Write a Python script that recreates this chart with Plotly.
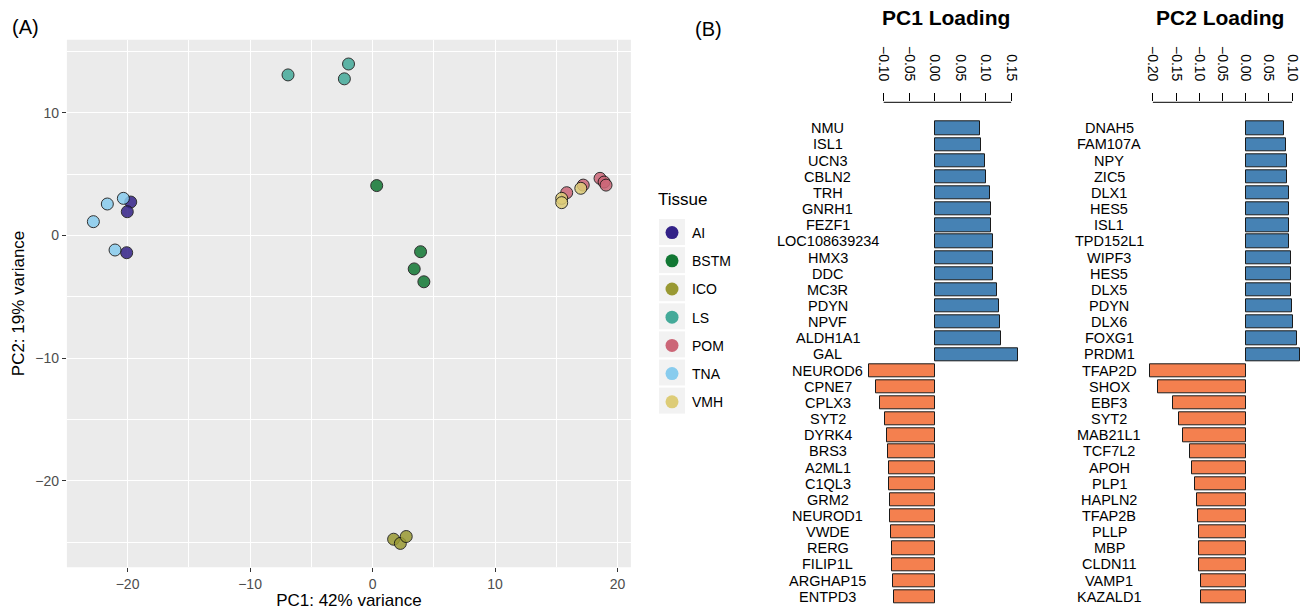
import plotly.graph_objects as go

W, H = 1311, 610
FONT = "Liberation Sans, Arial, Helvetica, sans-serif"

# ---------------- data ----------------
tissues = ["AI", "BSTM", "ICO", "LS", "POM", "TNA", "VMH"]
tissue_colors = ["#332288", "#117733", "#999933", "#44AA99", "#CC6677", "#88CCEE", "#DDCC77"]

sample_tissue = ["AI", "AI", "AI",
                 "BSTM", "BSTM", "BSTM", "BSTM",
                 "ICO", "ICO", "ICO",
                 "LS", "LS", "LS",
                 "POM", "POM", "POM", "POM", "POM",
                 "TNA", "TNA", "TNA", "TNA",
                 "VMH", "VMH", "VMH"]
sample_pc1 = [-19.74, -20.02, -20.07,
              0.34, 3.92, 3.40, 4.19,
              1.72, 2.27, 2.75,
              -6.9, -1.96, -2.3,
              15.85, 17.2, 18.57, 18.9, 19.06,
              -22.79, -21.65, -20.34, -21.02,
              15.44, 15.44, 17.0]
sample_pc2 = [2.72, 1.93, -1.41,
              4.06, -1.33, -2.73, -3.78,
              -24.76, -25.1, -24.54,
              13.08, 13.97, 12.76,
              3.48, 4.1, 4.65, 4.35, 4.1,
              1.12, 2.56, 3.02, -1.19,
              3.02, 2.67, 3.84]

pc1_genes = ["NMU", "ISL1", "UCN3", "CBLN2", "TRH", "GNRH1", "FEZF1", "LOC108639234",
             "HMX3", "DDC", "MC3R", "PDYN", "NPVF", "ALDH1A1", "GAL",
             "NEUROD6", "CPNE7", "CPLX3", "SYT2", "DYRK4", "BRS3", "A2ML1", "C1QL3",
             "GRM2", "NEUROD1", "VWDE", "RERG", "FILIP1L", "ARGHAP15", "ENTPD3"]
pc1_loadings = [0.0895, 0.0915, 0.0986, 0.1012, 0.109, 0.1097, 0.1104, 0.1137,
                0.1143, 0.115, 0.122, 0.1254, 0.128, 0.1293, 0.164,
                -0.1294, -0.115, -0.1078, -0.098, -0.0941, -0.0915, -0.0902, -0.0896,
                -0.0876, -0.087, -0.0857, -0.0843, -0.083, -0.0824, -0.0804]

pc2_genes = ["DNAH5", "FAM107A", "NPY", "ZIC5", "DLX1", "HES5", "ISL1", "TPD152L1",
             "WIPF3", "HES5", "DLX5", "PDYN", "DLX6", "FOXG1", "PRDM1",
             "TFAP2D", "SHOX", "EBF3", "SYT2", "MAB21L1", "TCF7L2", "APOH", "PLP1",
             "HAPLN2", "TFAP2B", "PLLP", "MBP", "CLDN11", "VAMP1", "KAZALD1"]
pc2_loadings = [0.0819, 0.0862, 0.089, 0.0895, 0.0927, 0.0933, 0.0935, 0.094,
                0.097, 0.0976, 0.0983, 0.1005, 0.1012, 0.1113, 0.1163,
                -0.2062, -0.1897, -0.156, -0.1444, -0.1344, -0.12, -0.115, -0.1086,
                -0.1056, -0.1035, -0.1013, -0.1006, -0.1, -0.0963, -0.0956]

pc1_ticks = [-0.10, -0.05, 0.00, 0.05, 0.10, 0.15]
pc2_ticks = [-0.20, -0.15, -0.10, -0.05, 0.00, 0.05, 0.10]

POS_COLOR = "#4682B4"
NEG_COLOR = "#F4804F"

# ---------------- figure ----------------
fig = go.Figure()

color_of = dict(zip(tissues, tissue_colors))
for t in tissues:
    xs = [x for x, s in zip(sample_pc1, sample_tissue) if s == t]
    ys = [y for y, s in zip(sample_pc2, sample_tissue) if s == t]
    fig.add_trace(go.Scatter(
        x=xs, y=ys, mode="markers", name=t, showlegend=False,
        marker=dict(size=12, color=color_of[t], opacity=0.85,
                    line=dict(color="#111111", width=1)),
        xaxis="x", yaxis="y"))

for i, t in enumerate(tissues):
    fig.add_trace(go.Scatter(
        x=[None], y=[None], mode="markers", name=t, legendgroup=t,
        marker=dict(size=13, color=color_of[t], line=dict(width=0)),
        xaxis="x", yaxis="y"))

fig.add_trace(go.Bar(
    x=pc1_loadings, y=list(range(len(pc1_genes))), orientation="h",
    width=0.82, showlegend=False,
    marker=dict(color=[POS_COLOR if v > 0 else NEG_COLOR for v in pc1_loadings],
                line=dict(color="#1a1a1a", width=1)),
    xaxis="x2", yaxis="y2"))

fig.add_trace(go.Bar(
    x=pc2_loadings, y=list(range(len(pc2_genes))), orientation="h",
    width=0.82, showlegend=False,
    marker=dict(color=[POS_COLOR if v > 0 else NEG_COLOR for v in pc2_loadings],
                line=dict(color="#1a1a1a", width=1)),
    xaxis="x3", yaxis="y2"))

GENE_FONT = dict(size=14.5, color="black", family=FONT)
annotations = []
for i, g in enumerate(pc1_genes):
    annotations.append(dict(x=827.7 / W, xref="paper", y=i, yref="y2", text=g,
                            showarrow=False, xanchor="center", yanchor="middle",
                            font=GENE_FONT))
for i, g in enumerate(pc2_genes):
    annotations.append(dict(x=1109 / W, xref="paper", y=i, yref="y2", text=g,
                            showarrow=False, xanchor="center", yanchor="middle",
                            font=GENE_FONT))

annotations += [
    dict(x=10 / W, y=1 - 27 / H, xref="paper", yref="paper", text="(A)", showarrow=False,
         xanchor="left", yanchor="middle", font=dict(size=20, color="black", family=FONT)),
    dict(x=693 / W, y=1 - 29 / H, xref="paper", yref="paper", text="(B)", showarrow=False,
         xanchor="left", yanchor="middle", font=dict(size=20, color="black", family=FONT)),
    dict(x=946 / W, y=1 - 18 / H, xref="paper", yref="paper", text="<b>PC1 Loading</b>",
         showarrow=False, xanchor="center", yanchor="middle",
         font=dict(size=21, color="black", family=FONT)),
    dict(x=1220 / W, y=1 - 18 / H, xref="paper", yref="paper", text="<b>PC2 Loading</b>",
         showarrow=False, xanchor="center", yanchor="middle",
         font=dict(size=21, color="black", family=FONT)),
    dict(x=656 / W, y=1 - 200 / H, xref="paper", yref="paper", text="Tissue",
         showarrow=False, xanchor="left", yanchor="middle",
         font=dict(size=17, color="black", family=FONT)),
]

LEG_Y0, LEG_DY = 232, 28.1
shapes = [
    # scatter panel background
    dict(type="rect", xref="x domain", yref="y domain", x0=0, x1=1, y0=0, y1=1,
         fillcolor="#EBEBEB", line=dict(width=0), layer="below"),
    # loading axis lines spanning the tick range
    dict(type="line", xref="x2", yref="y2 domain", x0=pc1_ticks[0], x1=pc1_ticks[-1],
         y0=1, y1=1, line=dict(color="black", width=1)),
    dict(type="line", xref="x3", yref="y2 domain", x0=pc2_ticks[0], x1=pc2_ticks[-1],
         y0=1, y1=1, line=dict(color="black", width=1)),
]
# legend key backgrounds
for i, t in enumerate(tissues):
    cy = LEG_Y0 + LEG_DY * i
    shapes.append(dict(type="rect", xref="paper", yref="paper",
                       x0=659 / W, x1=685 / W, y0=1 - (cy + 13) / H, y1=1 - (cy - 13) / H,
                       fillcolor="#F2F2F2", line=dict(width=0), layer="below"))

tick_font = dict(size=14, color="black", family=FONT)

fig.update_layout(
    width=W, height=H,
    margin=dict(l=0, r=0, t=0, b=0),
    paper_bgcolor="white",
    plot_bgcolor="white",
    font=dict(family=FONT, color="black"),
    showlegend=True,
    legend=dict(x=652 / W, y=1 - 217 / H, xanchor="left", yanchor="top",
                font=dict(size=14, color="black", family=FONT),
                traceorder="grouped", tracegroupgap=7, itemsizing="trace",
                bgcolor="rgba(0,0,0,0)"),
    annotations=annotations,
    shapes=shapes,
    bargap=0,
    xaxis=dict(domain=[66.9 / W, 630.9 / W], range=[-24.95, 21.09], anchor="y",
               tickvals=[-20, -10, 0, 10, 20], showgrid=True, gridcolor="white", gridwidth=1.3,
               zeroline=False, showline=False, ticks="outside", ticklen=4, tickcolor="#333333",
               tickfont=dict(size=14, color="#4D4D4D", family=FONT),
               minor=dict(tickvals=[-15, -5, 5, 15], showgrid=True, gridcolor="white",
                          gridwidth=0.6, ticks=""),
               title=dict(text="PC1: 42% variance", font=dict(size=17, color="black", family=FONT),
                          standoff=4)),
    yaxis=dict(domain=[1 - 567.2 / H, 1 - 39.7 / H], range=[-27.04, 15.95], anchor="x",
               tickvals=[-20, -10, 0, 10], showgrid=True, gridcolor="white", gridwidth=1.3,
               zeroline=False, showline=False, ticks="outside", ticklen=4, tickcolor="#333333",
               tickfont=dict(size=14, color="#4D4D4D", family=FONT),
               minor=dict(tickvals=[-25, -15, -5, 5, 15], showgrid=True, gridcolor="white",
                          gridwidth=0.6, ticks=""),
               title=dict(text="PC2: 19% variance", font=dict(size=17, color="black", family=FONT),
                          standoff=6)),
    xaxis2=dict(domain=[860 / W, 1025 / W], range=[-0.14647, 0.17706], anchor="y2",
                side="top", tickvals=pc1_ticks, tickformat=".2f", tickangle=90,
                ticks="outside", ticklen=8, tickcolor="black", tickwidth=1,
                ticklabelstandoff=7,
                showgrid=False, zeroline=False, showline=False, tickfont=tick_font),
    xaxis3=dict(domain=[1140 / W, 1305 / W], range=[-0.2278, 0.1278], anchor="y2",
                side="top", tickvals=pc2_ticks, tickformat=".2f", tickangle=90,
                ticks="outside", ticklen=8, tickcolor="black", tickwidth=1,
                ticklabelstandoff=7,
                showgrid=False, zeroline=False, showline=False, tickfont=tick_font),
    yaxis2=dict(domain=[1 - 605 / H, 1 - 102.3 / H], range=[29.51, -1.61], anchor="x2",
                visible=False),
)

fig.write_html("out.html", config={"displayModeBar": False},
               post_script="document.body.style.margin='0px';")
